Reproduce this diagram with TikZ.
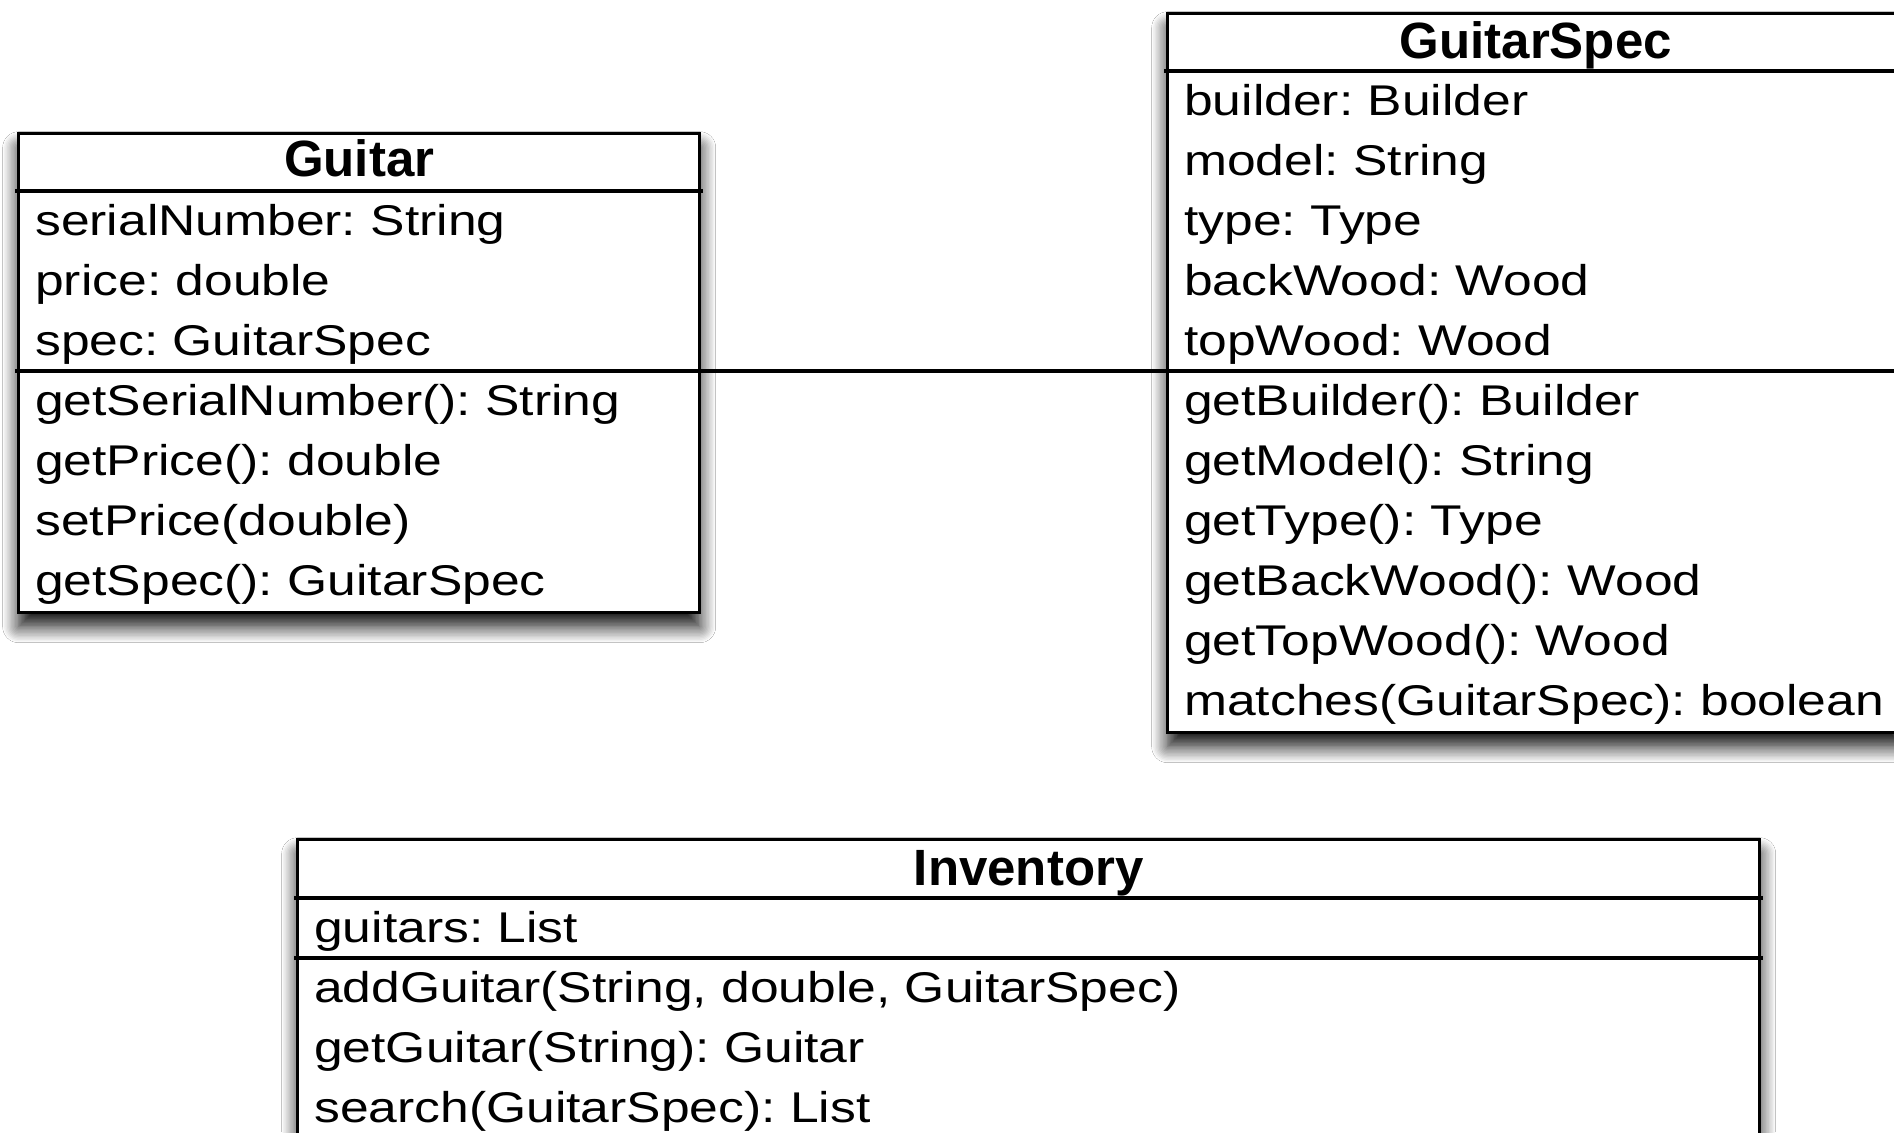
\documentclass[tikz,border=0pt]{standalone}
\usepackage{fontspec}
\setmainfont{Liberation Sans}[FakeStretch=1.2]
\newfontfamily\headfont{Liberation Sans}
\usetikzlibrary{shadows.blur}

\newcommand{\bodysize}{\fontsize{43}{50}\selectfont}
\newcommand{\headsize}{\fontsize{51}{58}\selectfont}

\tikzset{
  classbox/.style={draw=black, line width=3.4pt, fill=white, rectangle,
    inner sep=0pt, anchor=north west,
    blur shadow={shadow xshift=0pt, shadow yshift=-14pt,
                 shadow blur radius=16pt, shadow blur steps=12,
                 shadow opacity=95}},
  rule/.style={line width=3.4pt, line cap=rect},
  assoc/.style={line width=3.2pt},
  classname/.style={anchor=base, inner sep=0pt, font=\headfont\headsize\bfseries},
  member/.style={anchor=base west, inner sep=0pt, font=\bodysize},
}

\begin{document}
\frenchspacing
\begin{tikzpicture}[x=1pt, y=-1pt]
  \useasboundingbox (0,0) rectangle (1894,1132);
  \fill[white] (0,0) rectangle (1894,1132);

  % ---------- Guitar ----------
  \node[classbox, minimum width=681pt, minimum height=479pt] (guitar) at (17,132) {};
  \coordinate (g-top) at ([yshift=-59pt]guitar.north west);
  \coordinate (g-div) at ([yshift=-239pt]guitar.north west);
  \draw[rule] (g-top) -- (g-top -| guitar.east);
  \draw[rule] (g-div) -- (g-div -| guitar.east);
  \node[classname] (g-name) at ([yshift=-44pt]guitar.north) {Guitar};
  \node[member] (g-a1) at (35,235) {serialNumber: String};
  \node[member] (g-a2) at (35,295) {price: double};
  \node[member] (g-a3) at (35,355) {spec: GuitarSpec};
  \node[member] (g-m1) at (35,415) {getSerialNumber(): String};
  \node[member] (g-m2) at (35,475) {getPrice(): double};
  \node[member] (g-m3) at (35,535) {setPrice(double)};
  \node[member] (g-m4) at (35,595) {getSpec(): GuitarSpec};

  % ---------- GuitarSpec ----------
  \node[classbox, minimum width=736pt, minimum height=719pt] (spec) at (1166,12) {};
  \coordinate (s-top) at ([yshift=-59pt]spec.north west);
  \coordinate (s-div) at ([yshift=-359pt]spec.north west);
  \draw[rule] (s-top) -- (s-top -| spec.east);
  \draw[rule] (s-div) -- (s-div -| spec.east);
  \node[classname] (s-name) at ([yshift=-47pt]spec.north) {GuitarSpec};
  \node[member] (s-a1) at (1184,115) {builder: Builder};
  \node[member] (s-a2) at (1184,175) {model: String};
  \node[member] (s-a3) at (1184,235) {type: Type};
  \node[member] (s-a4) at (1184,295) {backWood: Wood};
  \node[member] (s-a5) at (1184,355) {topWood: Wood};
  \node[member] (s-m1) at (1184,415) {getBuilder(): Builder};
  \node[member] (s-m2) at (1184,475) {getModel(): String};
  \node[member] (s-m3) at (1184,535) {getType(): Type};
  \node[member] (s-m4) at (1184,595) {getBackWood(): Wood};
  \node[member] (s-m5) at (1184,655) {getTopWood(): Wood};
  \node[member] (s-m6) at (1184,715) {matches(GuitarSpec): boolean};

  % ---------- Inventory ----------
  \node[classbox, minimum width=1462pt, minimum height=400pt] (inv) at (296,838) {};
  \coordinate (i-top) at ([yshift=-60pt]inv.north west);
  \coordinate (i-div) at ([yshift=-120pt]inv.north west);
  \draw[rule] (i-top) -- (i-top -| inv.east);
  \draw[rule] (i-div) -- (i-div -| inv.east);
  \node[classname] (i-name) at ([yshift=-47pt]inv.north) {Inventory};
  \node[member] (i-a1) at (314,942) {guitars: List};
  \node[member] (i-m1) at (314,1002) {addGuitar(String, double, GuitarSpec)};
  \node[member] (i-m2) at (314,1062) {getGuitar(String): Guitar};
  \node[member] (i-m3) at (314,1122) {search(GuitarSpec): List};

  % ---------- association ----------
  \draw[assoc] (g-div -| guitar.east) -- (s-div -| spec.west);
\end{tikzpicture}
\end{document}
